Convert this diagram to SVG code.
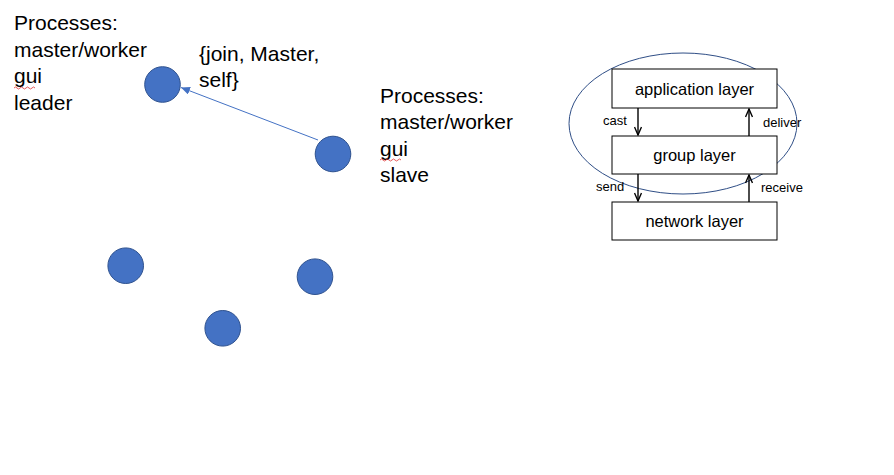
<svg xmlns="http://www.w3.org/2000/svg" width="894" height="475" viewBox="0 0 894 475">
<style>
.big{font-family:"Liberation Sans",Arial,sans-serif;font-size:21px;fill:#000}
.box{fill:#fff;stroke:#000;stroke-width:1}
.bt{font-family:"Liberation Sans",Arial,sans-serif;font-size:16.5px;fill:#000;text-anchor:middle}
.lt{font-family:"Liberation Sans",Arial,sans-serif;font-size:13px;fill:#000}
.node{fill:#4472C4;stroke:#2F528F;stroke-width:1}
.sq{fill:none;stroke:#e03030;stroke-width:0.8}
</style>
<defs>
<marker id="blueArrow" markerWidth="10" markerHeight="8" refX="9" refY="4" orient="auto" markerUnits="userSpaceOnUse">
<path d="M0,0 L9,4 L0,8 Z" fill="#4472C4"/>
</marker>
<marker id="blackArrow" markerWidth="10" markerHeight="8" refX="9" refY="4" orient="auto" markerUnits="userSpaceOnUse">
<path d="M1,0.5 L9,4 L1,7.5" fill="none" stroke="#000" stroke-width="1.4"/>
</marker>
</defs>
<rect width="894" height="475" fill="#fff"/>

<g id="text-leader">
<text class="big" x="14" y="30">Processes:</text>
<text class="big" x="14" y="57">master/worker</text>
<text class="big" x="14" y="83">gui</text>
<text class="big" x="14" y="110">leader</text>
<path class="sq" d="M14,88 q1.5,-2 3,0 t3,0 t3,0 t3,0 t3,0 t3,0 t3,0"/>
</g>
<g id="text-join">
<text class="big" x="199" y="61">{join, Master,</text>
<text class="big" x="199" y="87">self}</text>
</g>
<g id="text-slave">
<text class="big" x="380" y="103">Processes:</text>
<text class="big" x="380" y="129">master/worker</text>
<text class="big" x="380" y="156">gui</text>
<text class="big" x="380" y="182">slave</text>
<path class="sq" d="M380,160 q1.5,-2 3,0 t3,0 t3,0 t3,0 t3,0 t3,0 t3,0"/>
</g>

<g id="node-1"><circle class="node" cx="162.5" cy="84.5" r="17.8"/></g>
<g id="node-2"><circle class="node" cx="333" cy="154" r="17.8"/></g>
<g id="node-3"><circle class="node" cx="125.7" cy="265.7" r="17.8"/></g>
<g id="node-4"><circle class="node" cx="315" cy="276.7" r="17.8"/></g>
<g id="node-5"><circle class="node" cx="222.7" cy="328.3" r="17.8"/></g>

<g id="group-ellipse">
<ellipse cx="683" cy="123.5" rx="114" ry="70.5" fill="none" stroke="#2F4E86" stroke-width="1"/>
</g>
<g id="box-application">
<rect class="box" x="612" y="69" width="165" height="39"/>
<text class="bt" x="694.5" y="95">application layer</text>
</g>
<g id="box-group">
<rect class="box" x="612" y="136" width="165" height="38"/>
<text class="bt" x="694.5" y="161">group layer</text>
</g>
<g id="box-network">
<rect class="box" x="612" y="202" width="165" height="38"/>
<text class="bt" x="694.5" y="227">network layer</text>
</g>

<g id="connectors">
<line x1="318" y1="140" x2="181" y2="87.5" stroke="#4472C4" stroke-width="1" marker-end="url(#blueArrow)"/>
<line x1="638" y1="108" x2="638" y2="135" stroke="#000" stroke-width="1.4" marker-end="url(#blackArrow)"/>
<line x1="749" y1="136" x2="749" y2="109" stroke="#000" stroke-width="1.4" marker-end="url(#blackArrow)"/>
<line x1="638" y1="174" x2="638" y2="201" stroke="#000" stroke-width="1.4" marker-end="url(#blackArrow)"/>
<line x1="749" y1="202" x2="749" y2="175" stroke="#000" stroke-width="1.4" marker-end="url(#blackArrow)"/>
<text class="lt" x="603" y="125">cast</text>
<text class="lt" x="763" y="127">deliver</text>
<text class="lt" x="596" y="191">send</text>
<text class="lt" x="761" y="192">receive</text>
</g>
</svg>
